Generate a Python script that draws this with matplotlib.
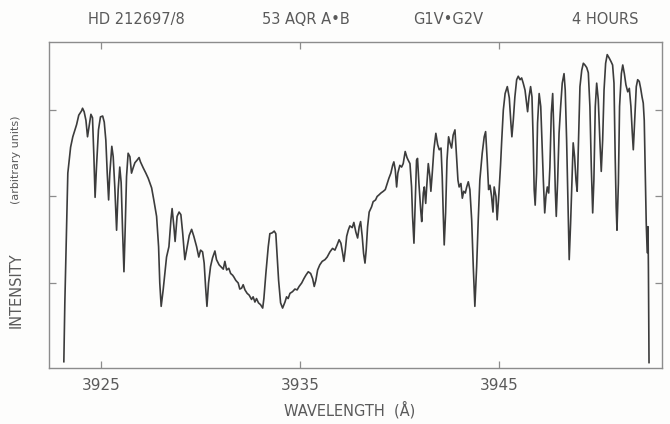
import matplotlib
matplotlib.use("Agg")
import matplotlib.pyplot as plt

wavelength = [
    3923.14, 3923.19, 3923.28, 3923.34, 3923.48, 3923.59, 3923.78, 3923.89, 3924.03, 3924.08,
    3924.16, 3924.25, 3924.33, 3924.40, 3924.50, 3924.58, 3924.65, 3924.71, 3924.78, 3924.88,
    3924.98, 3925.09, 3925.17, 3925.25, 3925.32, 3925.39, 3925.45, 3925.55, 3925.62, 3925.70,
    3925.79, 3925.87, 3925.95, 3926.02, 3926.09, 3926.16, 3926.22, 3926.29, 3926.37, 3926.46,
    3926.54, 3926.62, 3926.71, 3926.82, 3926.92, 3926.99, 3927.13, 3927.26, 3927.38, 3927.55,
    3927.66, 3927.80, 3927.90, 3927.96, 3928.03, 3928.13, 3928.30, 3928.42, 3928.52, 3928.58,
    3928.67, 3928.73, 3928.83, 3928.93, 3929.02, 3929.11, 3929.22, 3929.34, 3929.44, 3929.56,
    3929.67, 3929.81, 3929.92, 3930.01, 3930.11, 3930.19, 3930.26, 3930.33, 3930.41, 3930.51,
    3930.61, 3930.73, 3930.81, 3930.94, 3931.07, 3931.15, 3931.23, 3931.32, 3931.43, 3931.52,
    3931.62, 3931.68, 3931.78, 3931.90, 3931.98, 3932.07, 3932.15, 3932.24, 3932.35, 3932.45,
    3932.57, 3932.65, 3932.74, 3932.82, 3932.92, 3933.02, 3933.13, 3933.19, 3933.29, 3933.41,
    3933.49, 3933.61, 3933.71, 3933.79, 3933.86, 3933.93, 3934.03, 3934.13, 3934.25, 3934.33,
    3934.41, 3934.50, 3934.63, 3934.75, 3934.86, 3934.96, 3935.09, 3935.20, 3935.30, 3935.42,
    3935.54, 3935.64, 3935.72, 3935.80, 3935.89, 3936.00, 3936.12, 3936.26, 3936.37, 3936.51,
    3936.64, 3936.76, 3936.87, 3936.97, 3937.06, 3937.15, 3937.21, 3937.28, 3937.35, 3937.43,
    3937.51, 3937.63, 3937.71, 3937.81, 3937.90, 3937.98, 3938.05, 3938.13, 3938.20, 3938.27,
    3938.33, 3938.40, 3938.48, 3938.60, 3938.68, 3938.80, 3938.88, 3938.98, 3939.07, 3939.19,
    3939.29, 3939.39, 3939.47, 3939.57, 3939.66, 3939.72, 3939.79, 3939.86, 3939.92, 3940.02,
    3940.11, 3940.19, 3940.29, 3940.38, 3940.44, 3940.53, 3940.61, 3940.66, 3940.73, 3940.79,
    3940.86, 3940.91, 3940.98, 3941.07, 3941.12, 3941.20, 3941.25, 3941.32, 3941.37, 3941.45,
    3941.53, 3941.58, 3941.65, 3941.73, 3941.83, 3941.92, 3942.00, 3942.09, 3942.15, 3942.20,
    3942.25, 3942.32, 3942.39, 3942.47, 3942.54, 3942.62, 3942.70, 3942.79, 3942.87, 3942.94,
    3943.00, 3943.09, 3943.16, 3943.23, 3943.31, 3943.38, 3943.46, 3943.54, 3943.63, 3943.71,
    3943.79, 3943.88, 3943.96, 3944.04, 3944.16, 3944.26, 3944.33, 3944.41, 3944.48, 3944.55,
    3944.63, 3944.70, 3944.76, 3944.85, 3944.91, 3945.00, 3945.08, 3945.14, 3945.22, 3945.31,
    3945.42, 3945.52, 3945.60, 3945.65, 3945.72, 3945.80, 3945.89, 3945.97, 3946.06, 3946.14,
    3946.22, 3946.31, 3946.39, 3946.44, 3946.51, 3946.59, 3946.66, 3946.72, 3946.77, 3946.82,
    3946.89, 3946.94, 3947.02, 3947.10, 3947.16, 3947.23, 3947.30, 3947.36, 3947.43, 3947.50,
    3947.56, 3947.63, 3947.70, 3947.76, 3947.83, 3947.88, 3947.95, 3948.02, 3948.10, 3948.18,
    3948.27, 3948.33, 3948.40, 3948.47, 3948.53, 3948.60, 3948.68, 3948.73, 3948.80, 3948.87,
    3948.93, 3949.00, 3949.07, 3949.16, 3949.24, 3949.32, 3949.41, 3949.49, 3949.57, 3949.64,
    3949.71, 3949.77, 3949.84, 3949.91, 3949.99, 3950.07, 3950.14, 3950.21, 3950.28, 3950.36,
    3950.44, 3950.54, 3950.63, 3950.71, 3950.78, 3950.84, 3950.89, 3950.93, 3951.00, 3951.06,
    3951.15, 3951.22, 3951.30, 3951.38, 3951.47, 3951.55, 3951.63, 3951.70, 3951.75, 3951.82,
    3951.90, 3951.97, 3952.05, 3952.12, 3952.19, 3952.25, 3952.30, 3952.35, 3952.40, 3952.45,
    3952.49, 3952.51, 3952.54,
]

intensity = [
    0.09, 0.77, 1.69, 2.27, 2.57, 2.69, 2.83, 2.94, 2.99, 3.02,
    2.98, 2.88, 2.69, 2.80, 2.95, 2.91, 2.46, 1.99, 2.34, 2.77,
    2.92, 2.93, 2.86, 2.65, 2.27, 1.96, 2.27, 2.58, 2.46, 2.11,
    1.61, 2.08, 2.34, 2.16, 1.61, 1.13, 1.61, 2.23, 2.50, 2.46,
    2.27, 2.33, 2.39, 2.42, 2.45, 2.40, 2.33, 2.27, 2.21, 2.10,
    1.96, 1.77, 1.42, 1.00, 0.73, 0.92, 1.30, 1.42, 1.73, 1.86,
    1.65, 1.48, 1.77, 1.82, 1.79, 1.58, 1.27, 1.42, 1.55, 1.62,
    1.54, 1.42, 1.30, 1.38, 1.36, 1.23, 0.96, 0.73, 1.00, 1.19,
    1.29, 1.37, 1.27, 1.21, 1.18, 1.16, 1.25, 1.15, 1.17, 1.11,
    1.09, 1.07, 1.03, 1.00, 0.93, 0.94, 0.98, 0.92, 0.88, 0.86,
    0.81, 0.84, 0.78, 0.82, 0.77, 0.75, 0.71, 0.82, 1.11, 1.42,
    1.57, 1.58, 1.60, 1.57, 1.30, 1.03, 0.77, 0.71, 0.78, 0.84,
    0.82, 0.88, 0.90, 0.93, 0.92, 0.96, 1.00, 1.05, 1.09, 1.13,
    1.11, 1.05, 0.96, 1.03, 1.15, 1.21, 1.25, 1.27, 1.30, 1.36,
    1.40, 1.38, 1.44, 1.50, 1.46, 1.34, 1.25, 1.38, 1.54, 1.61,
    1.66, 1.64, 1.70, 1.59, 1.52, 1.65, 1.71, 1.54, 1.34, 1.23,
    1.38, 1.65, 1.82, 1.88, 1.94, 1.96, 2.00, 2.02, 2.04, 2.06,
    2.08, 2.15, 2.21, 2.27, 2.36, 2.40, 2.31, 2.11, 2.27, 2.36,
    2.34, 2.38, 2.52, 2.45, 2.42, 2.38, 2.11, 1.77, 1.46, 1.92,
    2.42, 2.44, 2.15, 1.84, 1.71, 2.04, 2.11, 1.92, 2.11, 2.38,
    2.23, 2.06, 2.27, 2.54, 2.73, 2.60, 2.54, 2.56, 2.23, 1.81,
    1.44, 1.81, 2.42, 2.69, 2.62, 2.56, 2.71, 2.77, 2.46, 2.19,
    2.11, 2.15, 1.98, 2.06, 2.04, 2.11, 2.17, 2.08, 1.73, 1.19,
    0.73, 1.19, 1.73, 2.19, 2.50, 2.69, 2.75, 2.42, 2.08, 2.13,
    2.00, 1.82, 2.11, 2.00, 1.73, 2.04, 2.36, 2.65, 3.00, 3.19,
    3.27, 3.14, 2.85, 2.69, 2.88, 3.15, 3.35, 3.39, 3.35, 3.37,
    3.31, 3.23, 3.08, 2.98, 3.15, 3.27, 3.15, 2.65, 2.08, 1.90,
    2.27, 2.85, 3.19, 3.04, 2.65, 2.19, 1.81, 2.00, 2.11, 2.04,
    2.34, 2.96, 3.19, 2.73, 2.08, 1.77, 2.19, 2.73, 3.04, 3.31,
    3.42, 3.23, 2.65, 1.88, 1.27, 1.69, 2.27, 2.62, 2.46, 2.19,
    2.06, 2.65, 3.27, 3.46, 3.54, 3.52, 3.49, 3.43, 3.04, 2.34,
    1.81, 2.19, 3.04, 3.31, 3.12, 2.65, 2.29, 2.65, 3.23, 3.54,
    3.64, 3.60, 3.56, 3.52, 3.31, 2.46, 1.88, 1.61, 2.15, 3.04,
    3.42, 3.52, 3.42, 3.29, 3.21, 3.25, 3.04, 2.73, 2.54, 2.88,
    3.27, 3.35, 3.33, 3.25, 3.15, 3.08, 2.88, 2.27, 1.69, 1.35,
    1.65, 1.15, 0.08,
]

x_ticks = [3925, 3935, 3945]
y_ticks = [1, 2, 3]
header = ["HD 212697/8", "53 AQR A\u2022B", "G1V\u2022G2V", "4 HOURS"]
header_x = [0.204, 0.457, 0.669, 0.903]

txt = "#5a5a5a"
frame = "#8c8c8c"

fig = plt.figure(figsize=(6.7, 4.24), dpi=100, facecolor="#fdfdfc")
ax = fig.add_axes([0.073, 0.132, 0.915, 0.769])
ax.set_facecolor("#fdfdfc")

ax.plot(wavelength, intensity, color="#3c3c3c", lw=1.2, solid_joinstyle="round")

ax.set_xlim(3922.39, 3953.19)
ax.set_ylim(0.017, 3.786)

ax.set_xticks(x_ticks)
ax.set_xticklabels([str(t) for t in x_ticks])
ax.set_yticks(y_ticks)
ax.set_yticklabels([])
ax.tick_params(axis="both", direction="in", length=5, width=0.9, color=frame,
               top=True, right=True, labelcolor=txt)
ax.tick_params(axis="x", labelsize=11, pad=7)
for s in ax.spines.values():
    s.set_color(frame)
    s.set_linewidth(1.0)

for lab, xp in zip(header, header_x):
    fig.text(xp, 0.953, lab, ha="center", va="center", fontsize=10.5, color=txt)

fig.text(0.522, 0.033, "WAVELENGTH  (\u00c5)", ha="center", va="center",
         fontsize=10.5, color=txt)
fig.text(0.024, 0.316, "INTENSITY", rotation=90, ha="center", va="center",
         fontsize=10.5, color=txt)
fig.text(0.024, 0.623, "(arbitrary units)", rotation=90, ha="center", va="center",
         fontsize=8, color=txt)

fig.savefig("out.png", dpi=100, facecolor=fig.get_facecolor())
